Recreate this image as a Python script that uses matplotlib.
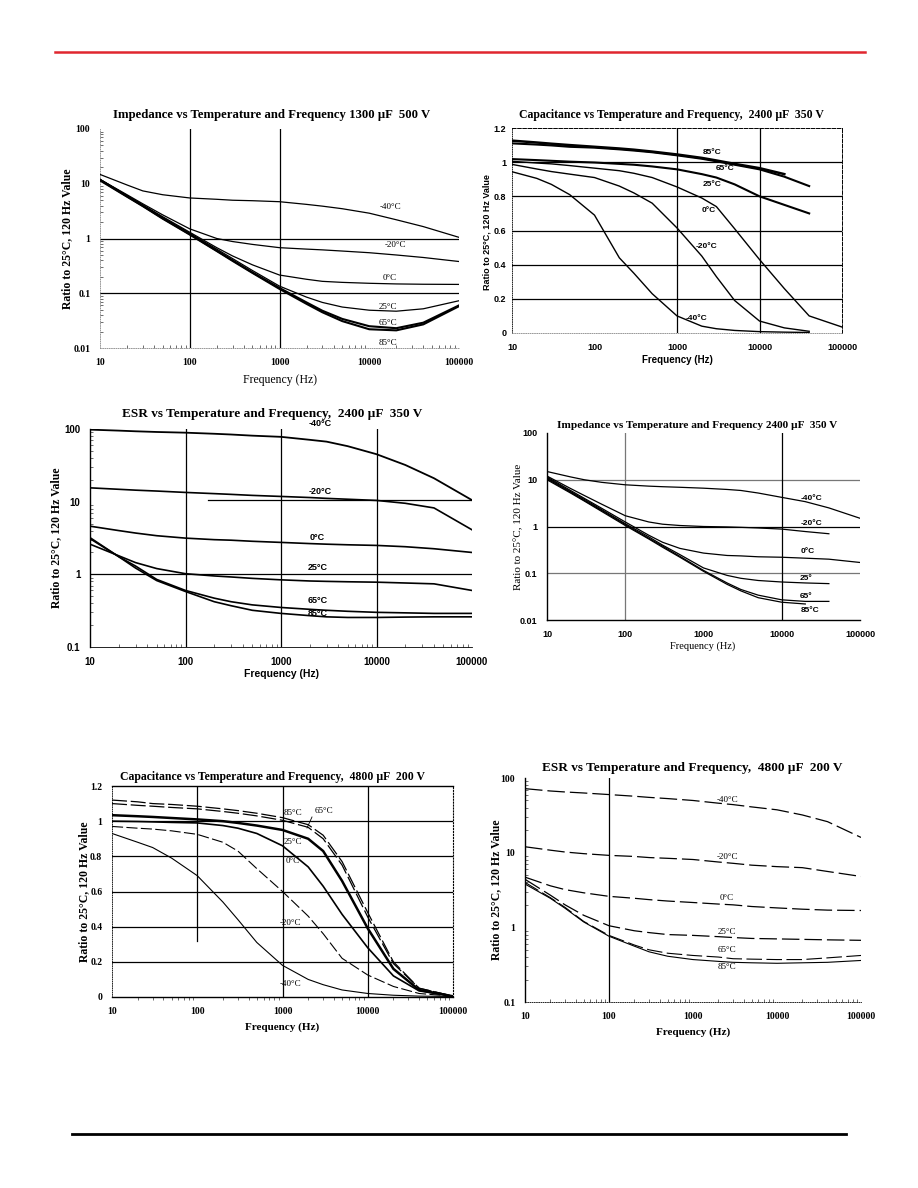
"""Recreate a datasheet page with six capacitor temperature/frequency charts."""

import numpy as np
import matplotlib

matplotlib.use("Agg")
import matplotlib.pyplot as plt
from matplotlib.ticker import LogLocator, NullFormatter

FIG_W, FIG_H = 918, 1188
SERIF = ["Liberation Serif", "DejaVu Serif"]
SANS = ["Liberation Sans", "DejaVu Sans"]
NA = np.nan

# common frequency grid (Hz) the values below were read at
FREQ = [10, 20, 30, 50, 100, 200, 300, 500, 1000, 2000, 3000, 5000, 10000, 20000, 40000, 100000]
TEMPS = ["-40°C", "-20°C", "0°C", "25°C", "65°C", "85°C"]

X_TICKS = [10, 100, 1000, 10000, 100000]
X_TICK_LABELS = ["10", "100", "1000", "10000", "100000"]
LOG_Y4_TICKS = [0.01, 0.1, 1, 10, 100]
LOG_Y4_LABELS = ["0.01", "0.1", "1", "10", "100"]
LOG_Y3_TICKS = [0.1, 1, 10, 100]
LOG_Y3_LABELS = ["0.1", "1", "10", "100"]
LIN_Y_TICKS = [0, 0.2, 0.4, 0.6, 0.8, 1.0, 1.2]
LIN_Y_LABELS = ["0", "0.2", "0.4", "0.6", "0.8", "1", "1.2"]

# Impedance vs temperature and frequency, 1300 uF 500 V
IMP1300_M40 = [14.8, 9.5, 7.4, 6.3, 5.5, 5.2, 5.0, 4.9, 4.7, 4.2, 3.9, 3.5, 2.9, 2.2, 1.65, 1.05]
IMP1300_M20 = [12, 6.3, 4.3, 2.7, 1.5, 1.0, 0.88, 0.78, 0.68, 0.64, 0.62, 0.59, 0.55, 0.5, 0.45, 0.38]
IMP1300_0 = [12, 6.1, 4.1, 2.5, 1.3, 0.68, 0.48, 0.33, 0.215, 0.18, 0.165, 0.158, 0.152, 0.148, 0.146, 0.145]
IMP1300_25 = [12, 6.0, 4.0, 2.4, 1.25, 0.64, 0.43, 0.26, 0.135, 0.085, 0.068, 0.056, 0.049, 0.047, 0.052, 0.073]
IMP1300_65 = [11.8, 5.9, 3.95, 2.35, 1.2, 0.6, 0.4, 0.24, 0.125, 0.068, 0.048, 0.034, 0.025, 0.023, 0.029, 0.06]
IMP1300_85 = [11.5, 5.8, 3.9, 2.3, 1.18, 0.59, 0.39, 0.235, 0.12, 0.064, 0.045, 0.031, 0.022, 0.021, 0.027, 0.058]

# Capacitance vs temperature and frequency, 2400 uF 350 V
CAP2400_M40 = [0.944, 0.905, 0.87, 0.81, 0.69, 0.44, 0.35, 0.23, 0.1, 0.04, 0.025, 0.015, 0.008, 0.005, 0.003, NA]
CAP2400_M20 = [0.987, 0.96, 0.945, 0.93, 0.91, 0.86, 0.82, 0.76, 0.615, 0.45, 0.33, 0.19, 0.07, 0.03, 0.01, NA]
CAP2400_0 = [1.005, 0.995, 0.99, 0.98, 0.965, 0.95, 0.935, 0.91, 0.855, 0.79, 0.74, 0.61, 0.43, 0.26, 0.1, 0.035]
CAP2400_25 = [1.018, 1.012, 1.008, 1.003, 0.998, 0.99, 0.985, 0.975, 0.958, 0.93, 0.91, 0.87, 0.8, 0.75, 0.7, NA]
CAP2400_65 = [1.11, 1.103, 1.098, 1.09, 1.085, 1.075, 1.068, 1.058, 1.04, 1.02, 1.005, 0.985, 0.958, 0.915, 0.86, NA]
CAP2400_85 = [1.126, 1.115, 1.108, 1.1, 1.09, 1.08, 1.073, 1.062, 1.045, 1.025, 1.01, 0.99, 0.965, 0.93, NA, NA]

# ESR vs temperature and frequency, 2400 uF 350 V
ESR2400_M40 = [98, 95, 93, 91, 89, 86, 84, 81, 78, 71, 67, 58, 45, 32, 21, 10.5]
ESR2400_M20 = [15.5, 14.8, 14.4, 14, 13.4, 12.9, 12.6, 12.2, 11.8, 11.4, 11.1, 10.8, 10.4, 9.5, 8.2, 4.1]
ESR2400_0 = [4.6, 4.0, 3.7, 3.4, 3.15, 3.0, 2.95, 2.85, 2.75, 2.65, 2.6, 2.55, 2.5, 2.4, 2.25, 2.0]
ESR2400_25 = [2.6, 1.8, 1.45, 1.2, 1.02, 0.95, 0.92, 0.88, 0.84, 0.81, 0.8, 0.79, 0.78, 0.76, 0.74, 0.6]
ESR2400_65 = [3.1, 1.75, 1.3, 0.85, 0.6, 0.47, 0.42, 0.38, 0.35, 0.33, 0.32, 0.31, 0.3, 0.295, 0.29, 0.29]
ESR2400_85 = [3.2, 1.75, 1.22, 0.82, 0.58, 0.42, 0.37, 0.32, 0.29, 0.27, 0.26, 0.255, 0.255, 0.258, 0.26, 0.26]

# Impedance vs temperature and frequency, 2400 uF 350 V
IMP2400_M40 = [15, 11.5, 10, 8.8, 7.8, 7.3, 7.1, 6.9, 6.6, 6.2, 5.9, 5.2, 4.2, 3.4, 2.5, 1.5]
IMP2400_M20 = [12, 6.5, 4.6, 3.0, 1.7, 1.25, 1.12, 1.05, 1.0, 0.98, 0.96, 0.93, 0.88, 0.78, 0.7, NA]
IMP2400_0 = [11.5, 5.9, 4.0, 2.45, 1.25, 0.65, 0.46, 0.34, 0.27, 0.24, 0.235, 0.225, 0.22, 0.21, 0.2, 0.17]
IMP2400_25 = [11, 5.6, 3.8, 2.3, 1.15, 0.6, 0.4, 0.25, 0.13, 0.09, 0.078, 0.07, 0.065, 0.062, 0.06, NA]
IMP2400_65 = [10.5, 5.4, 3.6, 2.2, 1.1, 0.56, 0.38, 0.23, 0.115, 0.062, 0.045, 0.034, 0.027, 0.025, 0.025, NA]
IMP2400_85 = [10, 5.2, 3.5, 2.1, 1.05, 0.54, 0.36, 0.22, 0.11, 0.058, 0.042, 0.03, 0.024, 0.022, NA, NA]

# Capacitance vs temperature and frequency, 4800 uF 200 V
CAP4800_M40 = [0.93, 0.88, 0.85, 0.79, 0.69, 0.54, 0.44, 0.31, 0.18, 0.1, 0.07, 0.04, 0.02, 0.01, 0.005, 0.003]
CAP4800_M20 = [0.97, 0.96, 0.955, 0.945, 0.925, 0.88, 0.83, 0.73, 0.6, 0.46, 0.36, 0.22, 0.125, 0.06, 0.02, 0.004]
CAP4800_0 = [1.0, 0.998, 0.996, 0.993, 0.99, 0.975, 0.96, 0.93, 0.86, 0.74, 0.63, 0.47, 0.28, 0.12, 0.035, 0.004]
CAP4800_25 = [1.034, 1.028, 1.024, 1.018, 1.01, 1.0, 0.99, 0.975, 0.95, 0.9, 0.83, 0.66, 0.39, 0.16, 0.04, 0.004]
CAP4800_65 = [1.1, 1.09, 1.085, 1.078, 1.07, 1.055, 1.045, 1.03, 1.005, 0.965, 0.9, 0.75, 0.455, 0.19, 0.05, 0.005]
CAP4800_85 = [1.12, 1.11, 1.1, 1.095, 1.085, 1.07, 1.06, 1.045, 1.02, 0.98, 0.92, 0.77, 0.48, 0.2, 0.05, 0.005]

# ESR vs temperature and frequency, 4800 uF 200 V
ESR4800_M40 = [72, 67, 65, 63, 60, 57, 55, 53, 50, 46, 44, 41, 37.5, 32, 26, 16]
ESR4800_M20 = [12, 10.8, 10.2, 9.7, 9.2, 8.9, 8.6, 8.4, 8.1, 7.5, 7.2, 6.8, 6.5, 6.3, 5.6, 4.8]
ESR4800_0 = [4.7, 3.6, 3.2, 2.9, 2.6, 2.45, 2.35, 2.25, 2.15, 2.05, 2.0, 1.9, 1.82, 1.75, 1.7, 1.68]
ESR4800_25 = [4.4, 2.7, 2.0, 1.45, 1.05, 0.9, 0.85, 0.8, 0.78, 0.75, 0.73, 0.71, 0.7, 0.69, 0.68, 0.67]
ESR4800_65 = [4.0, 2.5, 1.85, 1.2, 0.78, 0.58, 0.5, 0.45, 0.42, 0.4, 0.38, 0.375, 0.37, 0.37, 0.39, 0.42]
ESR4800_85 = [3.8, 2.45, 1.8, 1.18, 0.76, 0.56, 0.47, 0.41, 0.37, 0.35, 0.34, 0.335, 0.33, 0.335, 0.34, 0.36]


def px_rect(left, top, right, bottom):
    return [left / FIG_W, 1 - bottom / FIG_H, (right - left) / FIG_W, (bottom - top) / FIG_H]


def put_text(fig, x, y, s, **kw):
    kw.setdefault("ha", "center")
    kw.setdefault("va", "center")
    fig.text(x / FIG_W, 1 - y / FIG_H, s, **kw)


def make_axes(fig, rect, ylog, yticks, ylabels, tick_font, tick_size=7, tick_weight="bold"):
    ax = fig.add_axes(px_rect(*rect))
    ax.set_xscale("log")
    ax.set_xlim(10, 100000)
    if ylog:
        ax.set_yscale("log")
        ax.set_ylim(yticks[0], yticks[-1])
        ax.yaxis.set_minor_locator(LogLocator(base=10, subs=np.arange(2, 10)))
        ax.yaxis.set_minor_formatter(NullFormatter())
    else:
        ax.set_ylim(0, 1.2)
    ax.set_xticks(X_TICKS)
    ax.set_xticklabels(X_TICK_LABELS)
    ax.set_yticks(yticks)
    ax.set_yticklabels(ylabels)
    ax.xaxis.set_minor_locator(LogLocator(base=10, subs=np.arange(2, 10)))
    ax.xaxis.set_minor_formatter(NullFormatter())
    ax.tick_params(which="major", length=0, pad=7)
    ax.tick_params(which="minor", direction="in", length=2, width=0.6, color="#555555")
    for lab in ax.get_xticklabels() + ax.get_yticklabels():
        lab.set_family(tick_font)
        lab.set_fontsize(tick_size)
        lab.set_fontweight(tick_weight)
    for side in ("top", "right"):
        ax.spines[side].set_visible(False)
    for side in ("left", "bottom"):
        ax.spines[side].set_linewidth(0.6)
    ax.patch.set_alpha(0)
    return ax


def grid(ax, vx=(), hy=(), color="black", lw=0.9):
    for x in vx:
        ax.axvline(x, color=color, lw=lw, zorder=1)
    for y in hy:
        ax.axhline(y, color=color, lw=lw, zorder=1)


def curves(ax, series, widths, styles=None):
    for i, values in enumerate(series):
        style = styles[i] if styles else "-"
        ax.plot(FREQ, values, color="black", lw=widths[i], ls=style, zorder=3)


def main():
    fig = plt.figure(figsize=(FIG_W / 100, FIG_H / 100), dpi=100)
    fig.add_artist(plt.Line2D([55 / FIG_W, 865 / FIG_W], [1 - 52 / FIG_H] * 2,
                              color="#e0262f", lw=1.8))
    fig.add_artist(plt.Line2D([72 / FIG_W, 846 / FIG_W], [1 - 1134 / FIG_H] * 2,
                              color="black", lw=2.0))
    ylab = "Ratio to 25°C, 120 Hz Value"
    freq_lab = "Frequency (Hz)"

    # 1) impedance 1300 uF
    ax = make_axes(fig, (100, 129, 459, 348), True, LOG_Y4_TICKS, LOG_Y4_LABELS, SERIF)
    for side in ("left", "bottom"):
        ax.spines[side].set_linestyle(":")
        ax.spines[side].set_color("#888888")
    grid(ax, vx=[100, 1000], hy=[1, 0.1])
    curves(ax, [IMP1300_M40, IMP1300_M20, IMP1300_0, IMP1300_25, IMP1300_65, IMP1300_85],
           [0.9, 0.9, 0.9, 0.9, 1.5, 1.5])
    put_text(fig, 272, 115, "Impedance vs Temperature and Frequency 1300 µF  500 V",
             family=SERIF, fontsize=9.2, weight="bold")
    put_text(fig, 67, 239, ylab, family=SERIF, fontsize=8.5, weight="bold", rotation=90)
    put_text(fig, 280, 380, freq_lab, family=SERIF, fontsize=8.5)
    for t, x, y in zip(TEMPS, [390, 395, 390, 388, 388, 388], [207, 245, 278, 307, 323, 343]):
        put_text(fig, x, y, t, family=SERIF, fontsize=6.5)

    # 2) capacitance 2400 uF
    ax = make_axes(fig, (512, 128, 842, 333), False, LIN_Y_TICKS, LIN_Y_LABELS, SANS, 6.5)
    ax.tick_params(axis="y", which="major", pad=4)
    ax.spines["left"].set_linestyle(":")
    ax.spines["bottom"].set_linestyle(":")
    ax.spines["bottom"].set_color("#888888")
    for side in ("top", "right"):
        ax.spines[side].set_visible(True)
        ax.spines[side].set_linestyle("--")
        ax.spines[side].set_linewidth(0.7)
    ax.tick_params(which="minor", length=0)
    grid(ax, vx=[1000, 10000], hy=[0.2, 0.4, 0.6, 0.8, 1.0])
    curves(ax, [CAP2400_M40, CAP2400_M20, CAP2400_0, CAP2400_25, CAP2400_65, CAP2400_85],
           [1.0, 1.0, 1.0, 1.5, 1.5, 1.8])
    put_text(fig, 671, 115, "Capacitance vs Temperature and Frequency,  2400 µF  350 V",
             family=SERIF, fontsize=8.5, weight="bold")
    put_text(fig, 487, 232, ylab, family=SANS, fontsize=6.5, weight="bold", rotation=90)
    put_text(fig, 677, 360, freq_lab, family=SANS, fontsize=7, weight="bold")
    for t, x, y in zip(TEMPS, [697, 707, 709, 712, 725, 712], [318, 247, 211, 184, 169, 153]):
        put_text(fig, x, y, t, family=SANS, fontsize=6, weight="bold")

    # 3) ESR 2400 uF
    ax = make_axes(fig, (90, 429, 472, 647), True, LOG_Y3_TICKS, LOG_Y3_LABELS, SANS)
    ax.spines["left"].set_linewidth(1.0)
    grid(ax, vx=[100, 1000, 10000], hy=[1])
    ax.plot([170, 100000], [10.5, 10.5], color="black", lw=0.9, zorder=1)
    curves(ax, [ESR2400_M40, ESR2400_M20, ESR2400_0, ESR2400_25, ESR2400_65, ESR2400_85],
           [1.3, 1.2, 1.2, 1.2, 1.2, 1.2])
    put_text(fig, 272, 414, "ESR vs Temperature and Frequency,  2400 µF  350 V",
             family=SERIF, fontsize=9.5, weight="bold")
    put_text(fig, 56, 538, ylab, family=SERIF, fontsize=8.5, weight="bold", rotation=90)
    put_text(fig, 281, 674, freq_lab, family=SANS, fontsize=7.5, weight="bold")
    for t, x, y in zip(TEMPS, [320, 320, 317, 318, 318, 318], [424, 491, 537, 568, 601, 614]):
        put_text(fig, x, y, t, family=SANS, fontsize=6.5, weight="bold")

    # 4) impedance 2400 uF
    ax = make_axes(fig, (547, 433, 860, 620), True, LOG_Y4_TICKS, LOG_Y4_LABELS, SANS, 6.5)
    ax.spines["left"].set_linewidth(1.0)
    ax.spines["bottom"].set_linewidth(1.0)
    ax.tick_params(which="minor", length=0)
    grid(ax, vx=[100], hy=[10, 0.1], color="#777777", lw=0.9)
    grid(ax, vx=[10000], hy=[1])
    curves(ax, [IMP2400_M40, IMP2400_M20, IMP2400_0, IMP2400_25, IMP2400_65, IMP2400_85],
           [0.9, 0.9, 0.9, 0.9, 0.9, 0.9])
    put_text(fig, 697, 426, "Impedance vs Temperature and Frequency 2400 µF  350 V",
             family=SERIF, fontsize=8.1, weight="bold")
    put_text(fig, 519, 527, "Ratio to 25°C, 120 Hz Value", family=SERIF, fontsize=8, rotation=90)
    put_text(fig, 703, 646, "Frequency (Hz)", family=SERIF, fontsize=7.5)
    for t, x, y in zip(["-40°C", "-20°C", "0°C", "25°", "65°", "85°C"],
                       [812, 812, 808, 806, 806, 810], [499, 523, 551, 578, 597, 610]):
        put_text(fig, x, y, t, family=SANS, fontsize=6, weight="bold")

    # 5) capacitance 4800 uF
    ax = make_axes(fig, (112, 786, 453, 997), False, LIN_Y_TICKS, LIN_Y_LABELS, SERIF)
    ax.spines["left"].set_linestyle(":")
    ax.spines["top"].set_visible(True)
    ax.spines["top"].set_linewidth(1.0)
    ax.spines["bottom"].set_linewidth(1.0)
    ax.spines["right"].set_visible(True)
    ax.spines["right"].set_linestyle(":")
    ax.tick_params(which="minor", axis="x", direction="out", length=2)
    ax.tick_params(which="minor", axis="y", length=0)
    grid(ax, vx=[1000, 10000], hy=[0.2, 0.4, 0.6, 0.8, 1.0])
    ax.plot([100, 100], [0.32, 1.2], color="black", lw=0.9, zorder=1)
    curves(ax, [CAP4800_M40, CAP4800_M20, CAP4800_0, CAP4800_25, CAP4800_65, CAP4800_85],
           [0.8, 0.8, 1.2, 1.8, 0.9, 0.9],
           ["-", (0, (10, 3)), "-", "-", (0, (12, 3)), (0, (12, 3))])
    put_text(fig, 272, 777, "Capacitance vs Temperature and Frequency,  4800 µF  200 V",
             family=SERIF, fontsize=8.5, weight="bold")
    put_text(fig, 84, 892, ylab, family=SERIF, fontsize=8.5, weight="bold", rotation=90)
    put_text(fig, 282, 1027, freq_lab, family=SERIF, fontsize=8, weight="bold")
    for t, x, y in zip(TEMPS, [290, 290, 293, 293, 324, 293], [984, 923, 861, 842, 811, 813]):
        put_text(fig, x, y, t, family=SERIF, fontsize=6.5)
    fig.add_artist(plt.Line2D([312 / FIG_W, 307 / FIG_W], [1 - 817 / FIG_H, 1 - 828 / FIG_H],
                              color="black", lw=0.6))

    # 6) ESR 4800 uF
    ax = make_axes(fig, (525, 778, 861, 1002), True, LOG_Y3_TICKS, LOG_Y3_LABELS, SERIF)
    ax.spines["left"].set_linewidth(1.0)
    ax.spines["bottom"].set_linestyle(":")
    grid(ax, vx=[100])
    curves(ax, [ESR4800_M40, ESR4800_M20, ESR4800_0, ESR4800_25, ESR4800_65, ESR4800_85],
           [0.9, 0.9, 0.9, 0.9, 0.8, 0.8],
           [(0, (14, 4)), (0, (14, 4)), (0, (14, 4)), (0, (14, 4)), (0, (14, 4)), "-"])
    put_text(fig, 692, 768, "ESR vs Temperature and Frequency,  4800 µF  200 V",
             family=SERIF, fontsize=9.5, weight="bold")
    put_text(fig, 496, 890, ylab, family=SERIF, fontsize=8.5, weight="bold", rotation=90)
    put_text(fig, 693, 1032, freq_lab, family=SERIF, fontsize=8, weight="bold")
    for t, x, y in zip(TEMPS, [727, 727, 727, 727, 727, 727], [800, 857, 898, 932, 950, 967]):
        put_text(fig, x, y, t, family=SERIF, fontsize=6.5)

    fig.savefig("out.png", dpi=100)
    plt.close(fig)


if __name__ == "__main__":
    main()
